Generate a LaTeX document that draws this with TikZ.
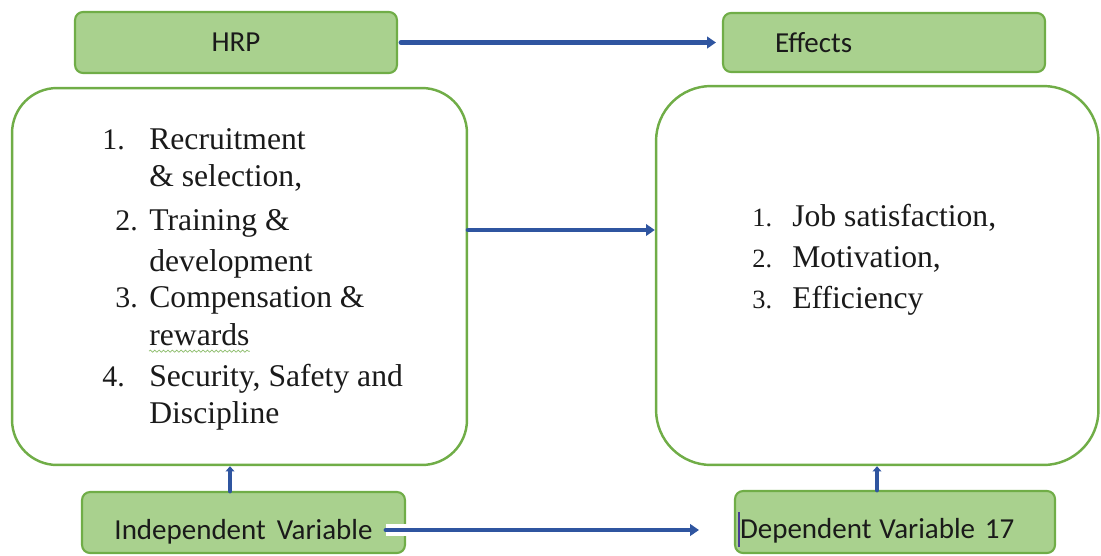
\documentclass[tikz,border=0pt]{standalone}
\usepackage{fontspec}
\setmainfont{Liberation Serif}
\newfontfamily\calib{Carlito}
\usetikzlibrary{arrows.meta,decorations.pathmorphing}
\definecolor{leaf}{HTML}{A9D18E}
\definecolor{leafline}{HTML}{70AD47}
\definecolor{flowc}{HTML}{2F55A0}
\definecolor{ink}{HTML}{1A1A1A}

\tikzset{
  tagbox/.style={draw=leafline, fill=leaf, line width=1.2pt,
    rounded corners=0.16cm, minimum width=6.44cm, minimum height=1.22cm,
    inner sep=0, text=ink, font=\calib\fontsize{16.5}{20}\selectfont},
  listbox/.style={draw=leafline, fill=white, line width=1.4pt,
    rounded corners=0.9cm},
  flow/.style={draw=flowc, line width=2.8pt, line cap=round,
    -{Triangle[length=5pt,width=6.5pt]}},
  item/.style={anchor=base west, inner sep=0, text=ink,
    font=\fontsize{18}{22}\selectfont},
  num/.style={anchor=base west, inner sep=0, text=ink,
    font=\fontsize{17}{22}\selectfont}
}

\begin{document}
\begin{tikzpicture}[x=0.02cm, y=-0.02cm]
\useasboundingbox (0,0) rectangle (1101,555);

% top tags
\node[tagbox] (hrp) at (236,42.5) {HRP};
\node[tagbox, minimum height=1.18cm, text width=4.36cm, inner xsep=1.04cm,
      align=left] (effects) at (884,42.5) {Effects};

% the two lists
\node[listbox, minimum width=9.1cm, minimum height=7.54cm] (hrm)
  at (239.5,276.5) {};
\node[listbox, rounded corners=1.1cm, minimum width=8.85cm,
      minimum height=7.58cm] (out) at (877.25,275.5) {};

% bottom tags
\node[tagbox, minimum width=6.46cm, text height=22pt, text depth=3pt]
  (indep) at (243.5,522.5) {Independent\hspace{0.22cm}Variable};
\node[tagbox, minimum width=6.4cm, minimum height=1.24cm, text width=6.2cm,
      inner xsep=0.1cm, align=left, text height=22pt, text depth=3pt]
  (dep) at (895,522) {Dependent\hspace{0.16cm}Variable 17};

% HRP practices
\foreach \i/\yy/\t in {%
  1/149/Recruitment,
  2/186/{\& selection,},
  3/230/{Training \&},
  4/271/development,
  5/307/{Compensation \&},
  6/345/rewards,
  7/386/{Security, Safety and},
  8/423/Discipline%
}{
  \node[item] (hl\i) at (149,\yy) {\t};
}
\foreach \i/\xx/\yy in {1/102/149, 2/115/230, 3/115/307, 4/102/386}
  \node[num] (hn\i) at (\xx,\yy) {\i.};

\draw[leafline!80, line width=0.4pt, decorate,
      decoration={snake, amplitude=0.6pt, segment length=2.5pt}]
  ([yshift=-3.5pt]hl6.base west) -- ([yshift=-3.5pt]hl6.base east);

% effects
\foreach \i/\yy/\t in {1/226/{Job satisfaction,}, 2/267/{Motivation,},
                       3/308/Efficiency}{
  \node[num, font=\fontsize{15}{18}\selectfont] (on\i) at (752,\yy) {\i.};
  \node[item] (ot\i) at (792,\yy) {\t};
}

% arrows
\draw[flow, shorten <=0.06cm, shorten >=0.12cm] (hrp.east) -- (effects.west);
\draw[flow] (hrm.east |- 0,230) -- (out.west |- 0,230);
\draw[flow, shorten <=-0.4cm, shorten >=0.7cm,
      preaction={draw=white, line width=7pt, -}]
  (indep.east |- 0,530) -- (dep.west |- 0,530);
\draw[flow, -{Triangle[length=3pt,width=5pt]}]
  (indep.north -| 230,0) -- (hrm.south -| 230,0);
\draw[flow, -{Triangle[length=3pt,width=5pt]}]
  (dep.north -| 877,0) -- (out.south -| 877,0);

% cursor mark
\draw[flowc!70!violet, line width=1pt] (739,512) -- (739,547);

\end{tikzpicture}
\end{document}
